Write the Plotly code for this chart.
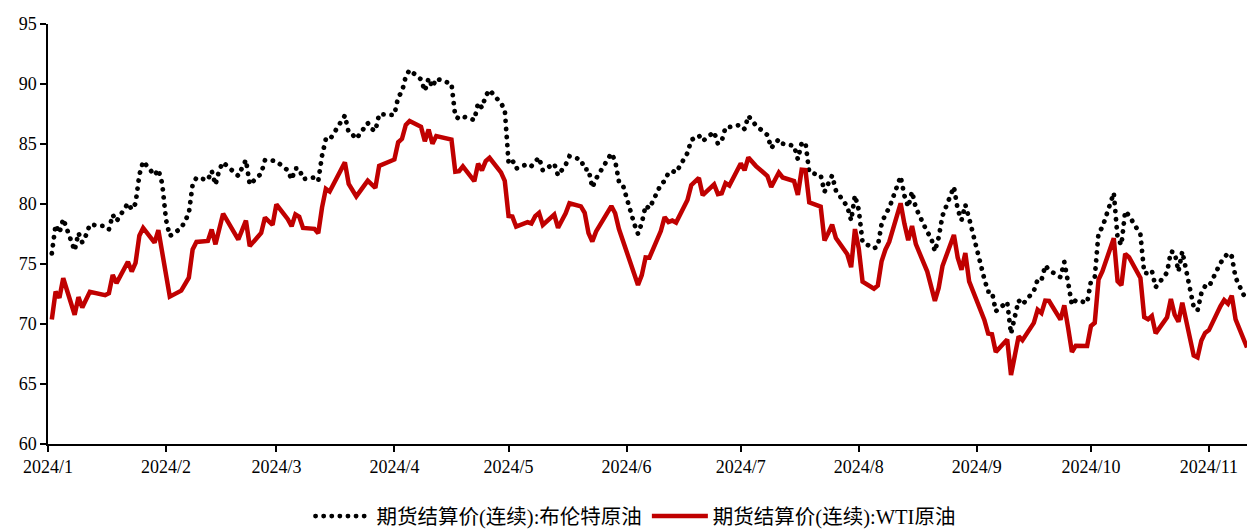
import plotly.graph_objects as go

dates = [
 "2024-01-02","2024-01-03","2024-01-04","2024-01-05","2024-01-08","2024-01-09","2024-01-10","2024-01-11","2024-01-12",
 "2024-01-16","2024-01-17","2024-01-18","2024-01-19","2024-01-22","2024-01-23","2024-01-24","2024-01-25","2024-01-26",
 "2024-01-29","2024-01-30","2024-01-31","2024-02-01","2024-02-02","2024-02-05","2024-02-06","2024-02-07","2024-02-08",
 "2024-02-09","2024-02-12","2024-02-13","2024-02-14","2024-02-15","2024-02-16","2024-02-20","2024-02-21","2024-02-22",
 "2024-02-23","2024-02-26","2024-02-27","2024-02-28","2024-02-29","2024-03-01","2024-03-04","2024-03-05","2024-03-06",
 "2024-03-07","2024-03-08","2024-03-11","2024-03-12","2024-03-13","2024-03-14","2024-03-15","2024-03-18","2024-03-19",
 "2024-03-20","2024-03-21","2024-03-22","2024-03-25","2024-03-26","2024-03-27","2024-03-28","2024-04-01","2024-04-02",
 "2024-04-03","2024-04-04","2024-04-05","2024-04-08","2024-04-09","2024-04-10","2024-04-11","2024-04-12","2024-04-15",
 "2024-04-16","2024-04-17","2024-04-18","2024-04-19","2024-04-22","2024-04-23","2024-04-24","2024-04-25","2024-04-26",
 "2024-04-29","2024-04-30","2024-05-01","2024-05-02","2024-05-03","2024-05-06","2024-05-07","2024-05-08","2024-05-09",
 "2024-05-10","2024-05-13","2024-05-14","2024-05-15","2024-05-16","2024-05-17","2024-05-20","2024-05-21","2024-05-22",
 "2024-05-23","2024-05-24","2024-05-28","2024-05-29","2024-05-30","2024-05-31","2024-06-03","2024-06-04","2024-06-05",
 "2024-06-06","2024-06-07","2024-06-10","2024-06-11","2024-06-12","2024-06-13","2024-06-14","2024-06-17","2024-06-18",
 "2024-06-20","2024-06-21","2024-06-24","2024-06-25","2024-06-26","2024-06-27","2024-06-28","2024-07-01","2024-07-02",
 "2024-07-03","2024-07-05","2024-07-08","2024-07-09","2024-07-10","2024-07-11","2024-07-12","2024-07-15","2024-07-16",
 "2024-07-17","2024-07-18","2024-07-19","2024-07-22","2024-07-23","2024-07-24","2024-07-25","2024-07-26","2024-07-29",
 "2024-07-30","2024-07-31","2024-08-01","2024-08-02","2024-08-05","2024-08-06","2024-08-07","2024-08-08","2024-08-09",
 "2024-08-12","2024-08-13","2024-08-14","2024-08-15","2024-08-16","2024-08-19","2024-08-20","2024-08-21","2024-08-22",
 "2024-08-23","2024-08-26","2024-08-27","2024-08-28","2024-08-29","2024-08-30","2024-09-03","2024-09-04","2024-09-05",
 "2024-09-06","2024-09-09","2024-09-10","2024-09-11","2024-09-12","2024-09-13","2024-09-16","2024-09-17","2024-09-18",
 "2024-09-19","2024-09-20","2024-09-23","2024-09-24","2024-09-25","2024-09-26","2024-09-27","2024-09-30","2024-10-01",
 "2024-10-02","2024-10-03","2024-10-04","2024-10-07","2024-10-08","2024-10-09","2024-10-10","2024-10-11","2024-10-14",
 "2024-10-15","2024-10-16","2024-10-17","2024-10-18","2024-10-21","2024-10-22","2024-10-23","2024-10-24","2024-10-25",
 "2024-10-28","2024-10-29","2024-10-30","2024-10-31","2024-11-01","2024-11-04","2024-11-05","2024-11-06","2024-11-07",
 "2024-11-08","2024-11-11",
]

brent = [
 75.89,78.25,77.59,78.76,76.12,77.59,76.80,77.41,78.29,
 78.15,77.88,79.10,78.56,80.06,79.55,80.04,82.43,83.55,
 82.40,82.87,81.71,78.70,77.33,77.99,78.59,79.21,81.63,
 82.19,82.00,82.77,81.60,82.86,83.47,82.34,83.03,83.67,
 81.62,82.53,83.65,83.68,83.62,83.55,82.80,82.04,82.96,
 82.96,82.08,82.21,81.92,84.03,85.42,85.34,86.89,87.38,
 85.95,85.78,85.43,86.75,86.25,86.09,87.48,87.42,88.92,
 89.35,90.65,91.17,90.38,89.42,90.48,89.74,90.45,90.10,
 90.02,87.29,87.11,87.29,87.00,88.42,88.02,89.01,89.50,
 88.40,87.86,83.44,83.67,82.96,83.33,83.16,83.58,83.88,
 82.79,83.36,82.38,82.75,83.27,83.98,83.71,82.88,82.90,
 81.36,82.12,84.22,83.60,81.86,81.62,78.36,77.52,78.41,
 79.87,79.62,81.63,81.92,82.60,82.75,82.62,84.25,85.33,
 85.71,85.24,86.01,85.01,85.25,86.39,86.41,86.60,86.24,
 87.34,86.54,85.75,84.66,85.08,85.40,85.03,84.85,83.73,
 85.08,85.11,82.63,82.40,81.01,81.71,82.37,81.13,79.78,
 78.63,80.72,79.52,76.81,76.30,76.48,78.33,79.16,79.66,
 82.30,80.69,79.76,81.04,79.68,77.66,77.20,76.05,77.22,
 79.02,81.43,79.55,78.65,79.94,78.80,73.75,72.70,72.69,
 71.06,71.84,69.19,70.61,71.97,71.61,72.75,73.70,73.65,
 74.88,74.49,73.90,75.17,73.46,71.60,71.98,71.77,73.56,
 73.90,77.62,78.05,80.93,77.18,76.58,79.40,79.04,77.46,
 74.25,74.22,74.45,73.06,74.29,76.04,75.96,74.38,76.05,
 71.42,71.12,72.55,73.16,73.10,75.08,75.53,75.92,75.63,
 73.87,71.83,
]

wti = [
 70.38,72.70,72.19,73.81,70.77,72.24,71.37,72.02,72.68,
 72.40,72.56,74.08,73.41,75.19,74.37,75.09,77.36,78.01,
 76.78,77.82,75.85,73.82,72.28,72.78,73.31,73.86,76.22,
 76.84,76.92,77.87,76.64,78.03,79.19,77.04,77.91,78.61,
 76.49,77.58,78.87,78.54,78.26,79.97,78.74,78.15,79.13,
 78.93,78.01,77.93,77.56,79.72,81.26,81.04,82.72,83.47,
 81.68,81.07,80.63,81.95,81.62,81.35,83.17,83.71,85.15,
 85.43,86.59,86.91,86.43,85.23,86.21,85.02,85.66,85.41,
 85.36,82.69,82.73,83.14,81.90,83.36,82.81,83.57,83.85,
 82.63,81.93,79.00,78.95,78.11,78.48,78.38,78.99,79.26,
 78.26,79.12,78.02,78.63,79.23,80.06,79.80,79.26,77.57,
 76.87,77.72,79.83,79.23,77.91,77.00,74.22,73.25,74.07,
 75.55,75.53,77.74,78.90,78.50,78.62,78.45,80.33,81.57,
 82.17,80.73,81.63,80.83,80.90,81.74,81.54,83.38,82.81,
 83.88,83.16,82.33,81.41,82.10,82.62,82.21,81.91,80.76,
 82.85,82.82,80.13,79.78,76.96,77.59,78.28,77.16,75.81,
 74.73,77.91,76.31,73.52,72.94,73.20,75.23,76.19,76.84,
 80.06,78.35,76.98,78.16,76.65,74.37,73.17,71.93,73.01,
 74.83,77.42,75.53,74.52,75.91,73.55,70.34,69.20,69.15,
 67.67,68.71,65.75,67.31,68.97,68.65,70.09,71.19,70.91,
 71.95,71.92,70.37,71.56,69.69,67.67,68.18,68.17,69.83,
 70.10,73.71,74.38,77.14,73.57,73.24,75.85,75.56,73.83,
 70.58,70.39,70.67,69.22,70.56,72.09,70.77,70.19,71.78,
 67.38,67.21,68.61,69.26,69.49,71.47,71.99,71.69,72.36,
 70.38,68.04,
]

month_ticks = ["2024-%02d-01" % m for m in range(1, 12)]
month_labels = ["2024/%d" % m for m in range(1, 12)]
y_ticks = [60, 65, 70, 75, 80, 85, 90, 95]

name_brent = "期货结算价(连续):布伦特原油"
name_wti = "期货结算价(连续):WTI原油"

FONT = "Liberation Serif, Times New Roman, Noto Sans CJK SC, serif"

fig = go.Figure()
fig.add_trace(go.Scatter(
    x=dates, y=brent, name=name_brent, mode="lines",
    line=dict(color="#000000", width=4.8, dash="0.1px,8px"),
))
fig.add_trace(go.Scatter(
    x=dates, y=wti, name=name_wti, mode="lines",
    line=dict(color="#C00000", width=4.5),
))

fig.update_layout(
    width=1247, height=531,
    margin=dict(l=48, r=0, t=24, b=87, autoexpand=False),
    paper_bgcolor="white", plot_bgcolor="white",
    font=dict(family=FONT, size=18, color="#000000"),
    showlegend=True,
    legend=dict(orientation="h", x=0.49, xanchor="center", y=-0.172, yanchor="middle",
                font=dict(family=FONT, size=20.5), itemwidth=56,
                bgcolor="rgba(0,0,0,0)", tracegroupgap=0),
    xaxis=dict(
        type="date", range=["2024-01-01", "2024-11-11"], automargin=False,
        tickmode="array", tickvals=month_ticks, ticktext=month_labels,
        showgrid=False, zeroline=False,
        showline=True, linecolor="#000000", linewidth=1.5,
        ticks="outside", ticklen=6, tickwidth=1.5, tickcolor="#000000",
        tickfont=dict(family=FONT, size=18),
    ),
    yaxis=dict(
        range=[60, 95], tickmode="array", tickvals=y_ticks, automargin=False,
        showgrid=False, zeroline=False,
        showline=True, linecolor="#000000", linewidth=1.5,
        ticks="outside", ticklen=6, tickwidth=1.5, tickcolor="#000000",
        tickfont=dict(family=FONT, size=18),
    ),
)

# page without body margin; round dash caps so the Brent dots are round as in the reference
post = """
document.body.style.margin = '0';
document.body.style.padding = '0';
var gd = document.getElementsByClassName('plotly-graph-div')[0];
function roundDots(){
  var paths = gd.querySelectorAll('path');
  paths.forEach(function(p){
    var da = p.style.strokeDasharray || p.getAttribute('stroke-dasharray');
    if (da && da.indexOf('8') >= 0) { p.style.strokeLinecap = 'round'; }
  });
}
roundDots();
gd.on('plotly_afterplot', roundDots);
"""

fig.write_html("out.html", post_script=post, config={"displayModeBar": False})
